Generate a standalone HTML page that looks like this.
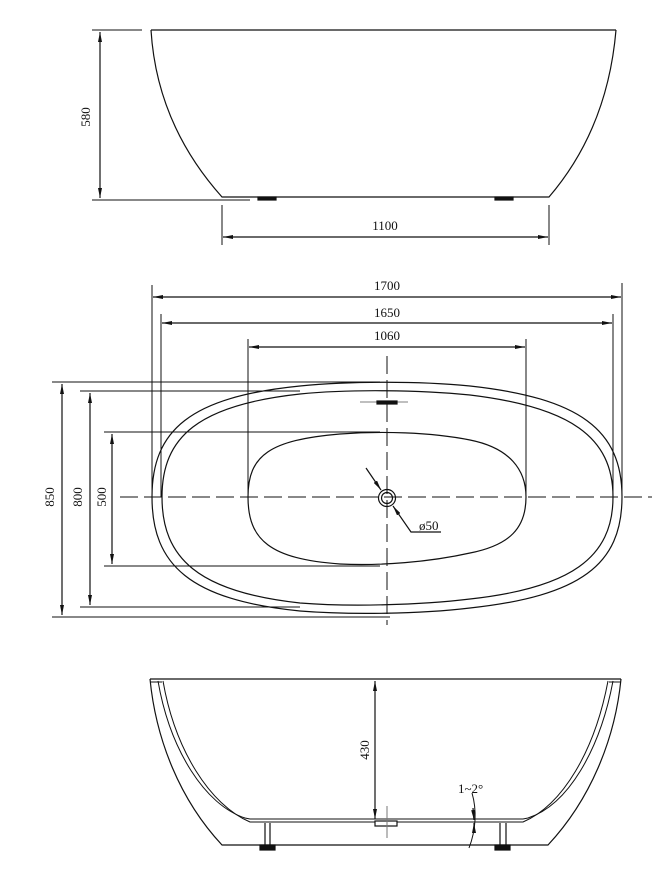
<!DOCTYPE html>
<html><head><meta charset="utf-8"><style>
html,body{margin:0;padding:0;background:#fff;}
svg{display:block;}
text{font-family:"Liberation Serif",serif;font-size:13px;fill:#111;}
</style></head><body>
<svg width="652" height="891" viewBox="0 0 652 891" xmlns="http://www.w3.org/2000/svg">
<defs>
<marker id="a" viewBox="0 0 10 4" refX="10" refY="2" markerWidth="10" markerHeight="4" orient="auto-start-reverse" markerUnits="userSpaceOnUse">
<path d="M0,0 L10,2 L0,4 z" fill="#111"/></marker>
</defs>
<g stroke="#111" fill="none" stroke-width="1.2">
<!-- TOP VIEW (side elevation) -->
<path d="M151,30 L616,30"/>
<path d="M151,30 C155,95 180,150 222,197 L549,197 C585,155 610,100 616,30"/>
<rect x="258" y="197" width="18" height="3" fill="#111"/>
<rect x="495" y="197" width="18" height="3" fill="#111"/>
<path d="M92,30 L142,30 M92,200 L250,200" stroke-width="1"/>
<path d="M100,32 L100,198" marker-start="url(#a)" marker-end="url(#a)"/>
<path d="M222,205 L222,245 M549,205 L549,245" stroke-width="1"/>
<path d="M223,237 L548,237" marker-start="url(#a)" marker-end="url(#a)"/>

<!-- PLAN VIEW -->
<path d="M152,285 L152,497 M622,283 L622,497 M161,314 L161,497 M613,314 L613,497 M248,339 L248,497 M526,339 L526,497" stroke-width="1"/>
<path d="M153,297 L621,297" marker-start="url(#a)" marker-end="url(#a)"/>
<path d="M162,323 L612,323" marker-start="url(#a)" marker-end="url(#a)"/>
<path d="M249,347 L525,347" marker-start="url(#a)" marker-end="url(#a)"/>
<path d="M52,382 L380,382 M80,391 L300,391 M104,432 L380,432 M104,566 L380,566 M80,607 L300,607 M52,617 L390,617" stroke-width="1"/>
<path d="M62,384 L62,615" marker-start="url(#a)" marker-end="url(#a)"/>
<path d="M90,393 L90,605" marker-start="url(#a)" marker-end="url(#a)"/>
<path d="M112,434 L112,564" marker-start="url(#a)" marker-end="url(#a)"/>
<path d="M152,497 C152,430 190,397 300,386 C350,381 420,381 470,386 C580,398 622,430 622,497 C622,565 580,596 470,608 C420,614 350,615 300,611 C190,600 152,565 152,497 Z"/>
<path d="M162,497 C162,437 198,405 300,394 C350,389 420,390 470,395 C570,407 613,437 613,497 C613,558 570,588 470,599 C420,605 350,607 300,603 C198,592 162,558 162,497 Z"/>
<path d="M248,497 C248,455 270,440 340,434 C380,431 430,432 470,440 C510,448 526,470 526,497 C526,528 510,545 470,553 C430,562 380,566 340,564 C270,559 248,540 248,497 Z"/>
<path d="M120,497 L652,497" stroke-dasharray="18,6" stroke-width="1"/>
<path d="M387,356 L387,625" stroke-dasharray="18,6" stroke-width="1"/>
<path d="M360,402 L408,402" stroke-width="0.8" stroke="#555"/>
<rect x="377" y="401" width="20" height="3" fill="#111"/>
<circle cx="387" cy="498" r="8.5"/>
<circle cx="387" cy="498" r="5.5"/>
<path d="M366,468 L381,490" marker-end="url(#a)"/>
<path d="M393,506 L411,532 L441,532" marker-start="url(#a)"/>

<!-- SECTION VIEW -->
<path d="M150,679 L621,679"/>
<path d="M150,679 C156,740 180,800 222,845 L548,845 C590,800 615,740 621,679"/>
<path d="M150,682 L162,682 M609,682 L621,682" stroke-width="1"/>
<path d="M158,681 C170,750 205,805 245,818 L250,819 L523,819 L528,818 C568,805 600,750 613,681" stroke-width="1"/>
<path d="M163,681 C175,750 210,805 250,822 L523,822 C563,805 595,750 608,681" stroke-width="1"/>
<rect x="375" y="821" width="22" height="5" fill="#fff"/>
<path d="M387,806 L387,838" stroke="#777" stroke-width="1"/>
<path d="M265,823 L265,845 M270,823 L270,845 M500,823 L500,845 M506,823 L506,845" stroke-width="1.2"/>
<rect x="260" y="845" width="15" height="5" fill="#111"/>
<rect x="495" y="845" width="15" height="5" fill="#111"/>
<path d="M375,681 L375,819" marker-start="url(#a)" marker-end="url(#a)"/>
<path d="M472,793 C477,810 476,830 469,848" stroke-width="1"/>
<path d="M473,808 L474,820" marker-end="url(#a)"/>
<path d="M474,833 L474,823" marker-end="url(#a)"/>
</g>
<text x="90" y="117" transform="rotate(-90 90 117)" text-anchor="middle">580</text>
<text x="385" y="230" text-anchor="middle">1100</text>
<text x="387" y="290" text-anchor="middle">1700</text>
<text x="387" y="317" text-anchor="middle">1650</text>
<text x="387" y="340" text-anchor="middle">1060</text>
<text x="54" y="497" transform="rotate(-90 54 497)" text-anchor="middle">850</text>
<text x="82" y="497" transform="rotate(-90 82 497)" text-anchor="middle">800</text>
<text x="106" y="497" transform="rotate(-90 106 497)" text-anchor="middle">500</text>
<text x="419" y="530">ø50</text>
<text x="369" y="750" transform="rotate(-90 369 750)" text-anchor="middle">430</text>
<text x="458" y="793">1~2°</text>
</svg>
</body></html>
